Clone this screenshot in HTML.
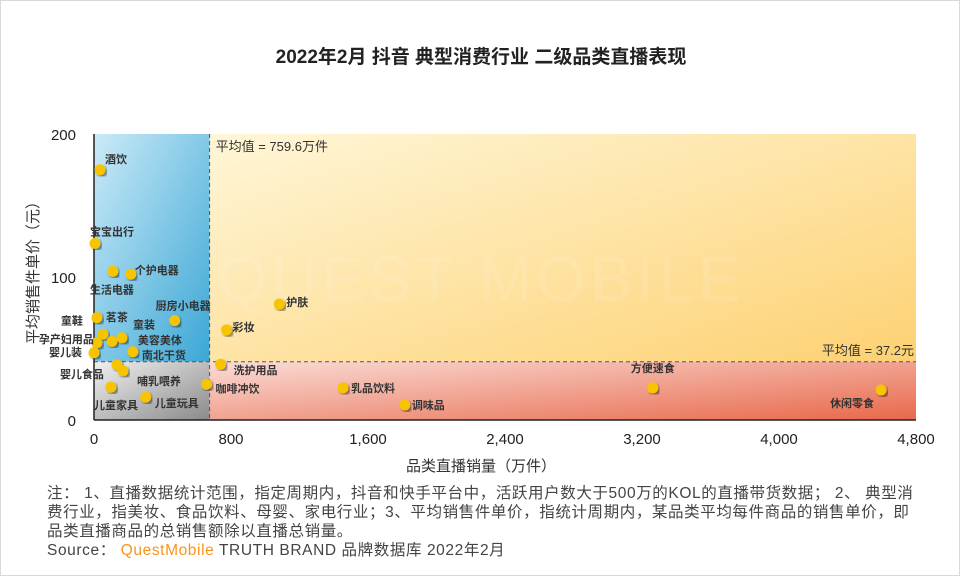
<!DOCTYPE html>
<html><head><meta charset="utf-8"><style>
body{margin:0;background:#fff;}
#wrap{position:relative;width:958px;height:574px;border:1px solid #d9d9d9;overflow:hidden;font-family:"Liberation Sans","Noto Sans CJK SC",sans-serif;}
svg text{font-family:"Liberation Sans","Noto Sans CJK SC",sans-serif;}
.note{position:absolute;left:46px;top:483px;width:900px;font-size:15.5px;letter-spacing:0.6px;line-height:19px;color:#444;white-space:nowrap;}
</style></head><body>
<div id="wrap">
<svg id="chart" width="960" height="480">
<defs>
<linearGradient id="gB" x1="0" y1="0" x2="1" y2="1"><stop offset="0" stop-color="#cbeaf7"/><stop offset="1" stop-color="#3ba7d6"/></linearGradient>
<linearGradient id="gY" x1="0" y1="0" x2="1" y2="1"><stop offset="0" stop-color="#fff6d8"/><stop offset="1" stop-color="#fdd172"/></linearGradient>
<linearGradient id="gG" x1="0" y1="0" x2="1" y2="1"><stop offset="0" stop-color="#f0f0f0"/><stop offset="1" stop-color="#8a8a8a"/></linearGradient>
<linearGradient id="gR" x1="0" y1="0" x2="1" y2="1"><stop offset="0" stop-color="#fadcd6"/><stop offset="1" stop-color="#e8684a"/></linearGradient>
<filter id="sh"><feDropShadow dx="2" dy="2" stdDeviation="1.2" flood-color="#000" flood-opacity="0.45"/></filter>
</defs>
<text x="480" y="62" text-anchor="middle" font-size="19" font-weight="bold" fill="#222">2022年2月 抖音 典型消费行业 二级品类直播表现</text>
<g id="quad"></g>
<g id="axes"></g>
<g id="marks"></g>
<text transform="translate(37,343) rotate(-90)" font-size="15" fill="#333">平均销售件单价（元）</text>
<text x="480" y="470" text-anchor="middle" font-size="15" fill="#333">品类直播销量（万件）</text>
</svg>
<div class="note">注： 1、直播数据统计范围，指定周期内，抖音和快手平台中，活跃用户数大于500万的KOL的直播带货数据； 2、 典型消<br>费行业，指美妆、食品饮料、母婴、家电行业；3、平均销售件单价，指统计周期内，某品类平均每件商品的销售单价，即<br>品类直播商品的总销售额除以直播总销量。<br><span>Source： <span style="color:#f7941d">QuestMobile</span> TRUTH BRAND 品牌数据库 2022年2月</span></div>
</div>
<script>
const categories=["酒饮","宝宝出行","生活电器","个护电器","厨房小电器","护肤","彩妆","童鞋","茗茶","童装","美容美体","孕产妇用品","婴儿装","南北干货","婴儿食品","哺乳喂养","儿童家具","儿童玩具","咖啡冲饮","洗护用品","乳品饮料","调味品","方便速食","休闲零食"];
const salesVolume=[35,6,110,215,471,1082,774,17,52,105,163,17,0,227,134,169,99,302,657,739,1454,1815,3263,4596];
const avgPrice=[175,123.5,104,102,69.5,81,63,71.6,60,55,57.5,54,47,47.7,38.6,34.4,23,16,25,39,22.5,10.5,22.5,21];
const labelOffsets=[[5,-11],[-5,-12],[-23,18],[4,-4],[-19,-15],[7,-2],[6,-3],[-36,3],[3,-17],[21,-17],[16,2],[-58,-4],[-45,-1],[9,3],[-57,9],[14,10],[-17,18],[9,6],[9,4],[13,6],[8,0],[7,0],[-22,-20],[-51,13]];
const xTicks=[0,800,1600,2400,3200,4000,4800];
const xTickLabels=["0","800","1,600","2,400","3,200","4,000","4,800"];
const yTicks=[0,100,200];
const avgXPos=675, avgYPos=40.7;
const avgXLabel="平均值 = 759.6万件", avgYLabel="平均值 = 37.2元";
const X=v=>93+v*(915-93)/4800;
const Y=v=>419-v*(419-133)/200;
const NS="http://www.w3.org/2000/svg";
function mk(p,t,a){const e=document.createElementNS(NS,t);for(const k in a)e.setAttribute(k,a[k]);p.appendChild(e);return e;}
const q=document.getElementById('quad'),ax=document.getElementById('axes'),mg=document.getElementById('marks');
const x0=X(0),x1=X(4800),xm=X(avgXPos),y0=Y(0),y1=Y(200),ym=Y(avgYPos);
let r;
r=mk(q,'rect',{x:x0,y:y1,width:xm-x0,height:ym-y1,fill:'url(#gB)'});


r=mk(q,'rect',{x:xm,y:y1,width:x1-xm,height:ym-y1,fill:'url(#gY)'});


r=mk(q,'rect',{x:x0,y:ym,width:xm-x0,height:y0-ym,fill:'url(#gG)'});


r=mk(q,'rect',{x:xm,y:ym,width:x1-xm,height:y0-ym,fill:'url(#gR)'});


r=mk(q,'text',{x:480,y:300,'text-anchor':'middle','font-size':64,fill:'#fff','fill-opacity':0.1,'letter-spacing':4});
r.textContent='QUEST MOBILE';


r=mk(q,'line',{x1:xm,y1:y1,x2:xm,y2:y0,stroke:'#555','stroke-dasharray':'4,3','stroke-width':1});


r=mk(q,'line',{x1:x0,y1:ym,x2:x1,y2:ym,stroke:'#555','stroke-dasharray':'4,3','stroke-width':1});


r=mk(q,'text',{x:xm+6,y:y1+17,'font-size':13,fill:'#333'});r.textContent=avgXLabel;


r=mk(q,'text',{x:x1-2,y:ym-7,'font-size':13,fill:'#333','text-anchor':'end'});r.textContent=avgYLabel;


r=mk(ax,'line',{x1:x0,y1:y1,x2:x0,y2:y0,stroke:'#222','stroke-width':1.5});


r=mk(ax,'line',{x1:x0,y1:y0,x2:x1,y2:y0,stroke:'#222','stroke-width':1.5});


xTicks.forEach((t,i)=>{const e=mk(ax,'text',{x:X(t),y:443,'text-anchor':'middle','font-size':15,fill:'#222'});e.textContent=xTickLabels[i];

});
yTicks.forEach(t=>{const e=mk(ax,'text',{x:75,y:Y(t)+6,'text-anchor':'end','font-size':15,fill:'#222'});e.textContent=String(t);

});
categories.forEach((c,i)=>{const cx=X(salesVolume[i]),cy=Y(avgPrice[i]);
const d=mk(mg,'circle',{cx:cx,cy:cy,r:5.5,fill:'#f8c400',filter:'url(#sh)'});


const t=mk(mg,'text',{x:cx+labelOffsets[i][0],y:cy+labelOffsets[i][1]+4,'font-size':11,'font-weight':'bold',fill:'#333'});t.textContent=c;

});
</script>
</body></html>
